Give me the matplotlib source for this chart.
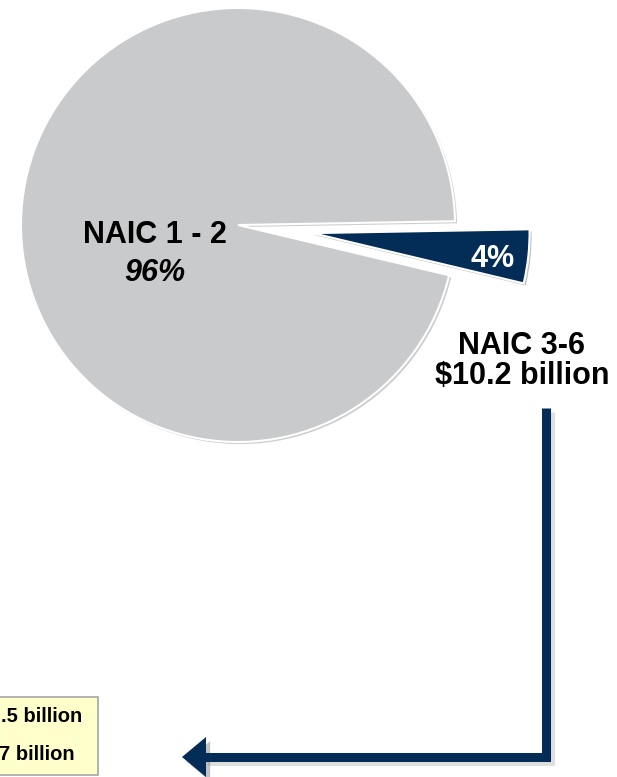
import matplotlib.pyplot as plt
import matplotlib.patheffects as pe
from matplotlib.patches import Polygon, Rectangle

# data
categories = ['NAIC 3-6', 'NAIC 1 - 2']
shares = [4, 96]  # percent
colors = ['#032c56', '#c9cacc']
below_ig_amount = '$10.2 billion'
box_lines = ['.5 billion', '7 billion']  # cut off at the left edge in the source

plt.rcParams['font.family'] = ['Liberation Sans', 'DejaVu Sans']

fig = plt.figure(figsize=(6.17, 7.77), dpi=100)
ax = fig.add_axes([0, 0, 1, 1])

# pie drawn in pixel units (y axis flipped below, so angles go clockwise on screen)
# note: explode is in data units here, not a fraction of the radius
cx, cy, r = 238, 225, 217
wedges, _ = ax.pie(shares, colors=colors, startangle=-1, counterclock=True,
                   explode=[75, 0], center=(cx, cy), radius=r,
                   wedgeprops=dict(edgecolor='white', linewidth=1.5))
for w in wedges:
    w.set_path_effects([pe.SimplePatchShadow(offset=(1.5, -1.5), alpha=0.25),
                        pe.Normal()])

ax.set_xlim(0, 617)
ax.set_ylim(777, 0)
ax.set_aspect('equal')
ax.axis('off')

# labels
ax.text(155, 235, categories[1], ha='center', va='center', fontsize=22,
        fontweight='bold', color='black')
ax.text(155, 273, f'{shares[1]}%', ha='center', va='center', fontsize=22,
        fontweight='bold', fontstyle='italic', color='black')
ax.text(493, 259, f'{shares[0]}%', ha='center', va='center', fontsize=22,
        fontweight='bold', color='white')
ax.text(522, 346, categories[0], ha='center', va='center', fontsize=22,
        fontweight='bold', color='black')
ax.text(522, 376, below_ig_amount, ha='center', va='center', fontsize=22,
        fontweight='bold', color='black')

# elbow arrow
shadow = [pe.SimpleLineShadow(offset=(3, -3), alpha=0.25, shadow_color='gray'),
          pe.Normal()]
ax.plot([546, 546, 203], [408, 757, 757], color='#032c56', lw=6.5,
        solid_joinstyle='miter', solid_capstyle='butt', path_effects=shadow)
head = Polygon([[182, 757], [206, 737], [206, 777]], closed=True,
               facecolor='#032c56', edgecolor='none')
head.set_path_effects([pe.SimplePatchShadow(offset=(3, -3), alpha=0.25),
                       pe.Normal()])
ax.add_patch(head)

# yellow note box, cut off on the left
ax.add_patch(Rectangle((-40, 697), 138, 78, facecolor='#ffffcc',
                       edgecolor='#a6a6a6', linewidth=1.2))
ax.text(82, 717, box_lines[0], ha='right', va='center', fontsize=14.5,
        fontweight='bold', color='black')
ax.text(75, 755, box_lines[1], ha='right', va='center', fontsize=14.5,
        fontweight='bold', color='black')

fig.savefig('out.png', dpi=100)
